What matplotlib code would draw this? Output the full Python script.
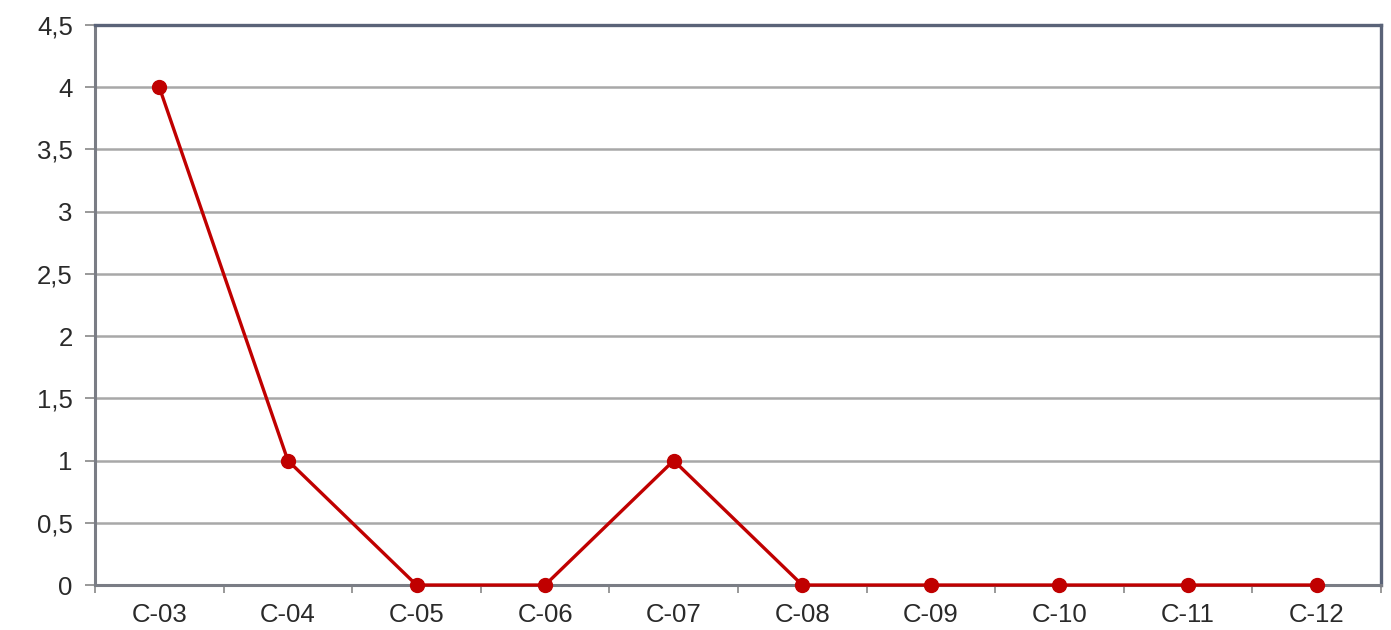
import numpy as np
import matplotlib.pyplot as plt
from matplotlib.ticker import FuncFormatter, MultipleLocator

# Series data
categories = ['C-03', 'C-04', 'C-05', 'C-06', 'C-07', 'C-08', 'C-09', 'C-10', 'C-11', 'C-12']
values = [4, 1, 0, 0, 1, 0, 0, 0, 0, 0]

plt.rcParams['font.family'] = ['Liberation Sans', 'DejaVu Sans']

fig = plt.figure(figsize=(13.91, 6.3), dpi=100)
ax = fig.add_axes([0.0683, 0.0714, 0.9245, 0.8889])

x = np.arange(len(categories))
ax.plot(x, values, color='#c00000', linewidth=2.4, marker='o', markersize=10,
        zorder=3, clip_on=False)

ax.set_xlim(-0.5, len(categories) - 0.5)
ax.set_ylim(0, 4.5)

# Horizontal grid
ax.yaxis.set_major_locator(MultipleLocator(0.5))
ax.grid(axis='y', color='#a8a8a8', linewidth=1.8)
ax.set_axisbelow(True)

# Comma decimal separator on y labels
ax.yaxis.set_major_formatter(FuncFormatter(lambda v, p: ('%g' % v).replace('.', ',')))

ax.set_xticks(x)
ax.set_xticklabels(categories)
ax.set_xticks(np.arange(-0.5, len(categories)), minor=True)
ax.tick_params(axis='x', which='major', length=0, pad=13, labelsize=18.5, labelcolor='#2a2a2a')
ax.tick_params(axis='x', which='minor', length=6, width=1.2, color='#888888', direction='out')
ax.tick_params(axis='y', length=7, width=1.2, color='#888888', pad=9, labelsize=18.5,
               labelcolor='#2a2a2a')

for side in ['left', 'bottom']:
    ax.spines[side].set_color('#7a7d85')
    ax.spines[side].set_linewidth(2.2)
for side in ['top', 'right']:
    ax.spines[side].set_color('#5a6378')
    ax.spines[side].set_linewidth(2.4)

fig.savefig('out.png', dpi=100)
